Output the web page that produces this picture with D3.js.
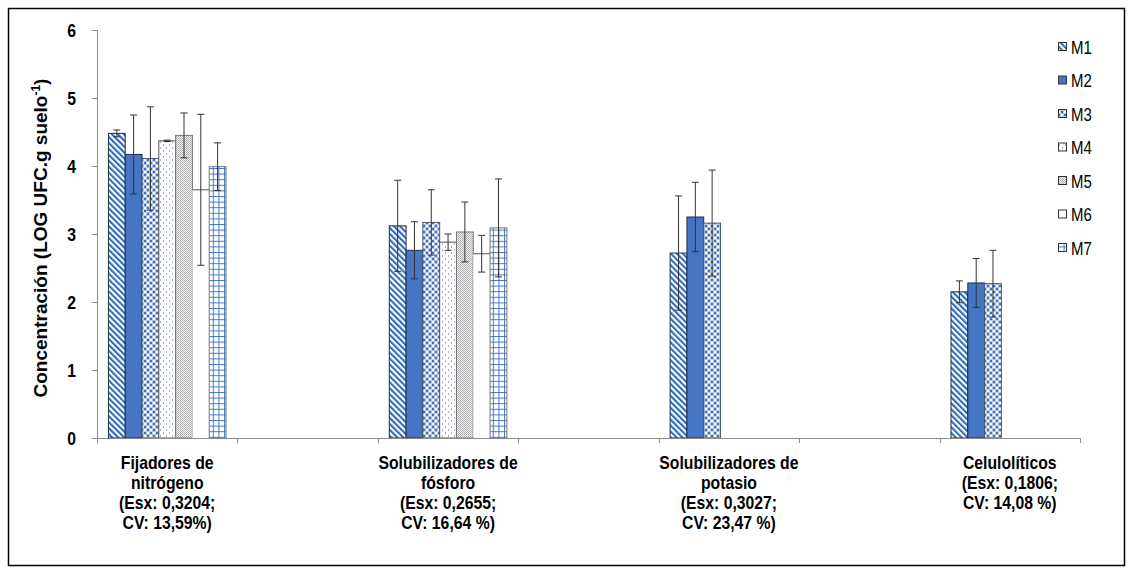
<!DOCTYPE html>
<html>
<head>
<meta charset="utf-8">
<script src="https://cdn.jsdelivr.net/npm/d3@7"></script>
<style>
  html, body { margin: 0; padding: 0; background: #fff; }
  svg { display: block; }
  .bold { font-family: "Liberation Sans", Arial, sans-serif; font-weight: bold; }
</style>
</head>
<body>
<svg id="chart" width="1133" height="576"></svg>
<script>
// Microbial groups (each label split into lines) and their axis slot
const categories = [
  ["Fijadores de", "nitrógeno", "(Esx: 0,3204;", "CV: 13,59%)"],
  ["Solubilizadores de", "fósforo", "(Esx: 0,2655;", "CV: 16,64 %)"],
  ["Solubilizadores de", "potasio", "(Esx: 0,3027;", "CV: 23,47 %)"],
  ["Celulolíticos", "(Esx: 0,1806;", "CV: 14,08 %)"]
];
const categorySlots = [0, 2, 4, 6];
const slotCount = 7;

const series = ["M1", "M2", "M3", "M4", "M5", "M6", "M7"];

// Mean concentration per series (one value per group; null = not measured)
const valM1 = [4.48, 3.12, 2.72, 2.15];
const valM2 = [4.17, 2.76, 3.25, 2.28];
const valM3 = [4.11, 3.17, 3.16, 2.27];
const valM4 = [4.37, 2.88, null, null];
const valM5 = [4.45, 3.03, null, null];
const valM6 = [3.65, 2.71, null, null];
const valM7 = [3.99, 3.09, null, null];

// Standard deviation per series
const errM1 = [0.05, 0.67, 0.84, 0.16];
const errM2 = [0.58, 0.42, 0.51, 0.36];
const errM3 = [0.76, 0.48, 0.78, 0.49];
const errM4 = [0.01, 0.12, null, null];
const errM5 = [0.33, 0.44, null, null];
const errM6 = [1.11, 0.27, null, null];
const errM7 = [0.35, 0.72, null, null];

const yTicks = [0, 1, 2, 3, 4, 5, 6];

const values = [valM1, valM2, valM3, valM4, valM5, valM6, valM7];
const errors = [errM1, errM2, errM3, errM4, errM5, errM6, errM7];

// condensed look for the lettering
const narrow = 0.83;

const svg = d3.select("#chart");

// Outer frame
svg.append("rect")
  .attr("x", 8.5).attr("y", 8.5).attr("width", 1116).attr("height", 557)
  .attr("fill", "none").attr("stroke", "#000").attr("stroke-width", 1.5);

// ---- fill patterns ----
const defs = svg.append("defs");
const blue = "#3f6fbf";

const p1 = defs.append("pattern").attr("id", "pat-M1")
  .attr("patternUnits", "userSpaceOnUse").attr("width", 4.2).attr("height", 4.2)
  .attr("patternTransform", "rotate(-45)");
p1.append("rect").attr("width", 4.2).attr("height", 4.2).attr("fill", "#fff");
p1.append("rect").attr("width", 2.1).attr("height", 4.2).attr("fill", "#2f6db8");

const p3 = defs.append("pattern").attr("id", "pat-M3")
  .attr("patternUnits", "userSpaceOnUse").attr("width", 6).attr("height", 6);
p3.append("rect").attr("width", 6).attr("height", 6).attr("fill", "#b9c9e4");
p3.append("rect").attr("x", 0).attr("y", 0).attr("width", 2).attr("height", 2).attr("fill", blue);
p3.append("rect").attr("x", 3).attr("y", 3).attr("width", 2).attr("height", 2).attr("fill", blue);
p3.append("rect").attr("x", 3).attr("y", 0).attr("width", 2).attr("height", 2).attr("fill", "#fff");
p3.append("rect").attr("x", 0).attr("y", 3).attr("width", 2).attr("height", 2).attr("fill", "#fff");

const p4 = defs.append("pattern").attr("id", "pat-M4")
  .attr("patternUnits", "userSpaceOnUse").attr("width", 6).attr("height", 6);
p4.append("rect").attr("width", 6).attr("height", 6).attr("fill", "#fff");
p4.append("rect").attr("x", 1).attr("y", 0).attr("width", 1).attr("height", 2).attr("fill", "#9fb0c8");
p4.append("rect").attr("x", 4).attr("y", 3).attr("width", 1).attr("height", 2).attr("fill", "#9fb0c8");

const p5 = defs.append("pattern").attr("id", "pat-M5")
  .attr("patternUnits", "userSpaceOnUse").attr("width", 2).attr("height", 2);
p5.append("rect").attr("width", 2).attr("height", 2).attr("fill", "#f2f2f2");
p5.append("rect").attr("x", 0).attr("y", 0).attr("width", 1).attr("height", 1).attr("fill", "#a8a8a8");
p5.append("rect").attr("x", 1).attr("y", 1).attr("width", 1).attr("height", 1).attr("fill", "#b8b8b8");

const p7 = defs.append("pattern").attr("id", "pat-M7")
  .attr("patternUnits", "userSpaceOnUse").attr("width", 5.6).attr("height", 5.6);
p7.append("rect").attr("width", 5.6).attr("height", 5.6).attr("fill", "#fff");
p7.append("rect").attr("x", 0).attr("y", 0).attr("width", 1).attr("height", 5.6).attr("fill", "#4a78c4");
p7.append("rect").attr("x", 0).attr("y", 0).attr("width", 5.6).attr("height", 1).attr("fill", "#4a78c4");

const fills = {
  M1: "url(#pat-M1)", M2: "#4675c4", M3: "url(#pat-M3)", M4: "url(#pat-M4)",
  M5: "url(#pat-M5)", M6: "#fff", M7: "url(#pat-M7)"
};
const strokes = {
  M1: "#1f2f4a", M2: "#1f2f4a", M3: "#4a5a70", M4: "#555", M5: "#777", M6: "none", M7: "#777"
};

// ---- scales ----
const plot = { left: 97, right: 1080, top: 30, bottom: 438 };
const x0 = d3.scaleBand().domain(d3.range(slotCount)).range([plot.left, plot.right]).padding(0);
const x1 = d3.scaleBand().domain(series).range([0, x0.bandwidth()]).paddingInner(0).paddingOuter(0.68);
const y = d3.scaleLinear().domain([0, 6]).range([plot.bottom, plot.top]);

// ---- bars ----
const barData = [];
series.forEach((s, si) => {
  categories.forEach((c, ci) => {
    const v = values[si][ci];
    if (v == null) return;
    barData.push({ s, ci, v, e: errors[si][ci] });
  });
});

const bars = svg.append("g");
bars.selectAll("rect").data(barData).join("rect")
  .attr("x", d => x0(categorySlots[d.ci]) + x1(d.s))
  .attr("y", d => y(d.v))
  .attr("width", x1.bandwidth())
  .attr("height", d => y(0) - y(d.v))
  .attr("fill", d => fills[d.s])
  .attr("stroke", d => strokes[d.s])
  .attr("stroke-width", 1);

// White bars (M6) only show their top edge
bars.selectAll("line.top").data(barData.filter(d => d.s === "M6")).join("line")
  .attr("class", "top")
  .attr("x1", d => x0(categorySlots[d.ci]) + x1(d.s))
  .attr("x2", d => x0(categorySlots[d.ci]) + x1(d.s) + x1.bandwidth())
  .attr("y1", d => y(d.v)).attr("y2", d => y(d.v))
  .attr("stroke", "#555").attr("stroke-width", 1);

// ---- error bars ----
const eg = svg.append("g").attr("stroke", "#333").attr("stroke-width", 1);
const cx = d => x0(categorySlots[d.ci]) + x1(d.s) + x1.bandwidth() / 2;
barData.forEach(d => {
  const c = cx(d);
  const hi = y(d.v + d.e), lo = y(d.v - d.e);
  eg.append("line").attr("x1", c).attr("x2", c).attr("y1", hi).attr("y2", lo);
  eg.append("line").attr("x1", c - 3.5).attr("x2", c + 3.5).attr("y1", hi).attr("y2", hi);
  eg.append("line").attr("x1", c - 3.5).attr("x2", c + 3.5).attr("y1", lo).attr("y2", lo);
});

// ---- y axis ----
const yAxis = svg.append("g").attr("transform", `translate(${plot.left},0)`)
  .call(d3.axisLeft(y).tickValues(yTicks).tickSize(5).tickFormat(d3.format("d")));
yAxis.select(".domain").attr("stroke", "#8c8c8c");
yAxis.selectAll(".tick line").attr("stroke", "#8c8c8c");
yAxis.selectAll(".tick text")
  .attr("class", "bold").attr("font-size", 19).attr("fill", "#000")
  .attr("x", 0).attr("dy", "0.36em")
  .attr("transform", `translate(-21,0) scale(${narrow},1)`);

svg.append("text")
  .attr("class", "bold")
  .attr("transform", `translate(47,${(plot.top + plot.bottom) / 2 + 4}) rotate(-90)`)
  .attr("text-anchor", "middle")
  .attr("font-size", 19).attr("fill", "#000")
  .call(t => {
    t.append("tspan").text("Concentración  (LOG UFC.g suelo");
    t.append("tspan").attr("dy", -7).attr("font-size", 12).text("-1");
    t.append("tspan").attr("dy", 7).text(")");
  });

// ---- x axis ----
const xa = svg.append("g").attr("stroke", "#8c8c8c").attr("stroke-width", 1);
xa.append("line").attr("x1", plot.left).attr("x2", plot.right)
  .attr("y1", plot.bottom + 0.5).attr("y2", plot.bottom + 0.5);
d3.range(slotCount + 1).forEach(i => {
  const xx = Math.round(plot.left + i * x0.step()) + 0.5;
  xa.append("line").attr("x1", xx).attr("x2", xx)
    .attr("y1", plot.bottom).attr("y2", plot.bottom + 5);
});

const labels = svg.append("g").attr("class", "bold").attr("font-size", 19)
  .attr("text-anchor", "middle").attr("fill", "#000");
categories.forEach((lines, ci) => {
  const xc = x0(categorySlots[ci]) + x0.bandwidth() / 2;
  const t = labels.append("text")
    .attr("transform", `translate(${xc},0) scale(${narrow},1)`);
  lines.forEach((ln, li) => {
    t.append("tspan").attr("x", 0).attr("y", 469 + li * 20).text(ln);
  });
});

// ---- legend ----
const lg = svg.append("g").attr("transform", "translate(1058,0)");
series.forEach((s, i) => {
  const yy = 47 + i * 33.5;
  lg.append("rect").attr("x", 0.5).attr("y", yy - 4.5).attr("width", 8).attr("height", 8)
    .attr("fill", fills[s]).attr("stroke", "#333").attr("stroke-width", 1);
  lg.append("text")
    .attr("font-family", "Liberation Sans, Arial, sans-serif").attr("font-size", 18)
    .attr("fill", "#000").attr("transform", `translate(13,${yy + 6.5}) scale(${narrow},1)`)
    .text(s);
});
</script>
</body>
</html>
